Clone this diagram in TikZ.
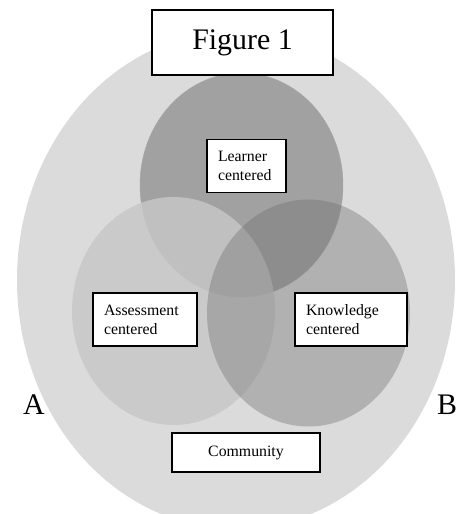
\documentclass[tikz,border=0pt]{standalone}
\usepackage{fontspec}
\setmainfont{Liberation Serif}
\usepackage{tikz}

\definecolor{outergray}{gray}{0.86}
\definecolor{learnergray}{gray}{0.63}
\definecolor{assessgray}{gray}{0.78}
\definecolor{knowgray}{gray}{0.43}

\begin{document}
\begin{tikzpicture}[x=0.02cm,y=0.02cm,
    tbox/.style={draw=black,line width=0.9pt,fill=white,inner ysep=0pt,font=\fontsize{9}{10.8}\selectfont},
    lbox/.style={tbox,align=left,inner xsep=0.22cm,minimum height=1.06cm}]
      \clip (0,0) rectangle (465,514);
      \fill [outergray] (236,234) ellipse [x radius=219, y radius=249];
      \filldraw [fill=learnergray, draw=black!35, line width=0.25pt] (241.5,329) ellipse [x radius=101.5, y radius=112];
      \fill [assessgray, fill opacity=0.82] (173.5,203) ellipse [x radius=101.5, y radius=114];
      \fill [knowgray, fill opacity=0.38] (308.5,201) ellipse [x radius=101.5, y radius=113.5];
      \node [tbox, minimum width=3.62cm, minimum height=1.3cm, font=\fontsize{17}{20}\selectfont] (fig) at (242.5,471.5) {Figure 1};
      \node [lbox, text width=1.14cm] (learner) at (246.5,348) {Learner\\centered};
      \node [lbox, text width=1.64cm] (assess) at (145,194.5) {Assessment\\centered};
      \node [lbox, text width=1.8cm] (know) at (351,194.5) {Knowledge\\centered};
      \node [tbox, minimum width=2.96cm, minimum height=0.78cm] (comm) at (246,61.5) {Community};
      \node [font=\fontsize{17}{20}\selectfont] (labA) at (34,109) {A};
      \node [font=\fontsize{17}{20}\selectfont] (labB) at (447,109) {B};
\end{tikzpicture}
\end{document}
